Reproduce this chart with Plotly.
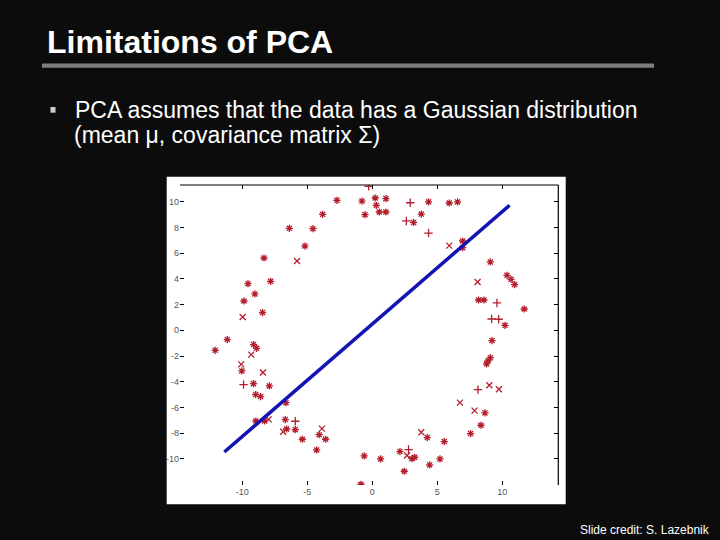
import plotly.graph_objects as go

# ---- data ----
ast_x = [-2.72, -0.79, -0.56, -3.82, -6.38, -4.56, -5.18, -8.33, -7.82, -9.56, -9.03, -9.87, -8.44, -11.15, -9.13, -8.9,
         0.23, 1.05, 0.31, 0.54, 1.05, 4.33, 5.92, 6.56, 3.18, 3.77, 6.95, 6.95, 9.08, 10.36, 10.67, 10.95, 8.18, 8.59, 11.69, 10.21, 9.21,
         -12.08, -10.03, -9.13, -7.92, -8.97, -8.59, -6.64, -8.95, -8.28, -6.69, -6.59, -5.92, -4.08, -3.59, -5.38, -4.28, -0.62, -0.87,
         9.08, 8.9, 8.79, 8.67, 8.36, 7.56, 4.23, 5.54, 2.13, 3.05, 3.26, 5.21, 0.64, 4.41, 2.46]
ast_y = [10.12, 10.06, 9.0, 9.03, 7.94, 7.91, 6.56, 5.63, 3.81, 3.63, 2.83, 2.28, 1.38, -0.72, -1.11, -1.4,
         10.3, 10.25, 9.73, 9.21, 9.21, 10.0, 9.91, 9.99, 8.40, 9.05, 6.95, 6.43, 5.32, 4.28, 3.97, 3.56, 2.36, 2.36, 1.66, 0.39, -0.80,
         -1.56, -3.16, -4.15, -4.33, -5.0, -5.16, -5.63, -7.06, -7.06, -6.95, -7.68, -7.73, -8.12, -8.48, -8.48, -9.31, -9.78, -11.98,
         -2.13, -2.39, -2.62, -6.43, -7.39, -8.04, -8.35, -8.66, -9.44, -9.99, -9.88, -10.01, -10.01, -10.48, -10.97]

plus_x = [-0.28, 2.62, 4.33, 9.59, 9.18, 9.72, -9.9, -5.92, 8.13, 2.79, 2.92]
plus_y = [11.2, 8.51, 7.57, 2.13, 0.88, 0.86, -4.23, -7.08, -4.62, -9.28, 9.93]

cross_x = [-9.97, -5.79, 5.92, 8.10, -10.08, -8.41, -9.31, -7.97, -6.85, -3.87, 9.0, 9.74, 6.74, 7.87, 3.77, 2.67]
cross_y = [1.04, 5.40, 6.59, 3.76, -2.65, -3.29, -1.89, -6.93, -7.89, -7.65, -4.28, -4.59, -5.63, -6.25, -7.94, -9.75]

pc_x = [-11.38, 10.56]
pc_y = [-9.47, 9.73]

x_ticks = [-10, -5, 0, 5, 10]
y_ticks = [-10, -8, -6, -4, -2, 0, 2, 4, 6, 8, 10]

title_text = "Limitations of PCA"
bullet_line1 = "PCA assumes that the data has a Gaussian distribution"
bullet_line2 = "(mean \u03bc, covariance matrix \u03a3)"
credit_text = "Slide credit: S. Lazebnik"

# ---- figure ----
W, H = 720, 540
RED = "#b41e2c"
BLUE = "#1414b4"

def px(x):
    return x / W

def py(y):
    return 1 - y / H

fig = go.Figure()
mk = dict(color=RED, size=6, line=dict(color=RED, width=1.3))
fig.add_trace(go.Scatter(x=ast_x, y=ast_y, mode="markers",
                         marker=dict(symbol="asterisk-open", **mk), showlegend=False))
fig.add_trace(go.Scatter(x=plus_x, y=plus_y, mode="markers",
                         marker=dict(symbol="cross-thin-open", **mk), showlegend=False))
fig.add_trace(go.Scatter(x=cross_x, y=cross_y, mode="markers",
                         marker=dict(symbol="x-thin-open", **mk), showlegend=False))
fig.add_trace(go.Scatter(x=pc_x, y=pc_y, mode="lines",
                         line=dict(color=BLUE, width=3.5), showlegend=False))

tickfont = dict(family="Liberation Sans, Arial, sans-serif", size=9, color="#555555")
fig.update_layout(
    width=W, height=H,
    margin=dict(l=0, r=0, t=0, b=0),
    paper_bgcolor="#0c0c0c",
    plot_bgcolor="white",
    xaxis=dict(domain=[px(180), px(558.3)], range=[-14.79, 14.31],
               tickvals=x_ticks, ticktext=[str(v) for v in x_ticks],
               ticks="inside", ticklen=4, tickcolor="black", mirror="ticks",
               showline=False, showgrid=False, zeroline=False, tickfont=tickfont),
    yaxis=dict(domain=[py(485), py(185)], range=[-12.04, 11.31],
               tickvals=y_ticks, ticktext=[str(v) for v in y_ticks],
               ticks="inside", ticklen=4, tickcolor="black", mirror="ticks",
               showline=False, showgrid=False, zeroline=False, tickfont=tickfont),
    font=dict(family="Liberation Sans, Arial, sans-serif"),
)

shapes = [
    # white panel behind the plot
    dict(type="rect", xref="paper", yref="paper", x0=px(166.7), x1=px(565.7), y0=py(504.3), y1=py(176.7),
         fillcolor="white", line=dict(width=0), layer="below"),
    # top and right frame lines
    dict(type="line", xref="x domain", yref="y domain", x0=0, x1=1, y0=1, y1=1,
         line=dict(color="black", width=1.2)),
    dict(type="line", xref="x domain", yref="y domain", x0=1, x1=1, y0=0, y1=1,
         line=dict(color="black", width=1.2)),
    # title underline
    dict(type="rect", xref="paper", yref="paper", x0=px(42), x1=px(654), y0=py(67.7), y1=py(63.5),
         fillcolor="#7d7d7d", line=dict(width=0)),
    # bullet
    dict(type="rect", xref="paper", yref="paper", x0=px(50.5), x1=px(55.5), y0=py(112.7), y1=py(107),
         fillcolor="#d0d0d0", line=dict(width=0)),
]
fig.update_layout(shapes=shapes)

ann = [
    dict(text="<b>" + title_text + "</b>", x=px(45), y=py(42.3), xanchor="left", yanchor="middle",
         font=dict(size=32, color="white", family="Liberation Sans, Arial, sans-serif")),
    dict(text=bullet_line1, x=px(73), y=py(110.3), xanchor="left", yanchor="middle",
         font=dict(size=23, color="white", family="Liberation Sans, Arial, sans-serif")),
    dict(text=bullet_line2, x=px(72), y=py(135), xanchor="left", yanchor="middle",
         font=dict(size=23, color="white", family="Liberation Sans, Arial, sans-serif")),
    dict(text=credit_text, x=px(712), y=py(530), xanchor="right", yanchor="middle",
         font=dict(size=12, color="white", family="Liberation Sans, Arial, sans-serif")),
]
for a in ann:
    a.update(xref="paper", yref="paper", showarrow=False)
fig.update_layout(annotations=ann)

fig.write_html(
    "out.html",
    config={"displayModeBar": False},
    post_script="document.body.style.margin='0';document.body.style.overflow='hidden';"
                "document.body.style.background='#0c0c0c';",
)
